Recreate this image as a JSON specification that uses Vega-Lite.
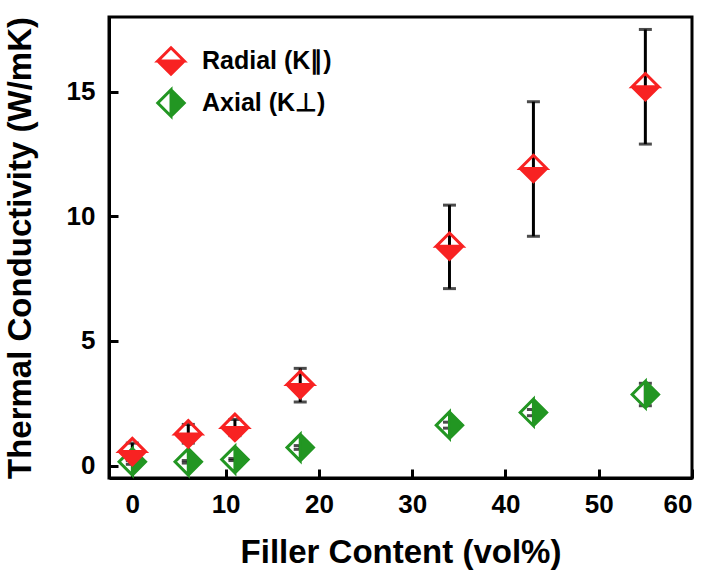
{
  "$schema": "https://vega.github.io/schema/vega-lite/v6.json",
  "width": 583,
  "height": 461,
  "autosize": "none",
  "padding": {"left": 109, "top": 17, "right": 20, "bottom": 100},
  "background": "white",
  "config": {
    "view": {"stroke": "black", "strokeWidth": 3},
    "axis": {
      "grid": false,
      "domainColor": "black",
      "domainWidth": 3,
      "tickColor": "black",
      "tickWidth": 3,
      "tickSize": -9,
      "labelFont": "Liberation Sans",
      "labelFontWeight": "bold",
      "labelFontSize": 26,
      "labelColor": "black",
      "titleFont": "Liberation Sans",
      "titleFontWeight": "bold",
      "titleFontSize": 33,
      "titleColor": "black"
    },
    "legend": {
      "labelFont": "Liberation Sans",
      "labelFontWeight": "bold",
      "labelFontSize": 25,
      "labelColor": "black",
      "symbolSize": 700,
      "symbolStrokeWidth": 3,
      "rowPadding": 2,
      "padding": 0
    }
  },
  "data": {
    "values": [
      {"series": "Axial (K⊥)", "x": 0, "y": 0.15, "lo": 0.05, "hi": 0.25},
      {"series": "Axial (K⊥)", "x": 6, "y": 0.15, "lo": 0.1, "hi": 0.2},
      {"series": "Axial (K⊥)", "x": 11, "y": 0.24, "lo": 0.2, "hi": 0.28},
      {"series": "Axial (K⊥)", "x": 18, "y": 0.72, "lo": 0.65, "hi": 0.8},
      {"series": "Axial (K⊥)", "x": 34, "y": 1.62, "lo": 1.5, "hi": 1.74},
      {"series": "Axial (K⊥)", "x": 43, "y": 2.13, "lo": 2.0, "hi": 2.25},
      {"series": "Axial (K⊥)", "x": 55, "y": 2.85, "lo": 2.4, "hi": 3.3},
      {"series": "Radial (K∥)", "x": 0, "y": 0.56, "lo": 0.2, "hi": 0.9},
      {"series": "Radial (K∥)", "x": 6, "y": 1.27, "lo": 0.9, "hi": 1.65},
      {"series": "Radial (K∥)", "x": 11, "y": 1.53, "lo": 1.2, "hi": 1.85},
      {"series": "Radial (K∥)", "x": 18, "y": 3.25, "lo": 2.55, "hi": 3.9},
      {"series": "Radial (K∥)", "x": 34, "y": 8.8, "lo": 7.1, "hi": 10.45},
      {"series": "Radial (K∥)", "x": 43, "y": 11.92, "lo": 9.2, "hi": 14.6},
      {"series": "Radial (K∥)", "x": 55, "y": 15.2, "lo": 12.9, "hi": 17.5}
    ]
  },
  "encoding": {
    "x": {
      "field": "x", "type": "quantitative",
      "scale": {"domain": [-2.5, 60], "nice": false, "zero": false},
      "axis": {"values": [0, 10, 20, 30, 40, 50, 60], "title": "Filler Content (vol%)", "labelPadding": 22, "titlePadding": 19}
    },
    "y": {
      "field": "y", "type": "quantitative",
      "scale": {"domain": [-0.5, 18], "nice": false, "zero": false},
      "axis": {"values": [0, 5, 10, 15], "title": "Thermal Conductivity (W/mK)", "labelPadding": 23, "titlePadding": 29}
    }
  },
  "layer": [
    {
      "mark": {"type": "point", "shape": "diamond", "filled": true, "fill": "white", "strokeOpacity": 0, "size": 700}
    },
    {
      "mark": {"type": "rule", "color": "black", "strokeWidth": 3},
      "encoding": {"y": {"field": "lo", "type": "quantitative"}, "y2": {"field": "hi"}}
    },
    {
      "mark": {"type": "tick", "color": "black", "thickness": 3, "size": 13, "orient": "horizontal"},
      "encoding": {"y": {"field": "lo", "type": "quantitative"}}
    },
    {
      "mark": {"type": "tick", "color": "black", "thickness": 3, "size": 13, "orient": "horizontal"},
      "encoding": {"y": {"field": "hi", "type": "quantitative"}}
    },
    {
      "mark": {"type": "point", "filled": true, "size": 700, "strokeWidth": 3, "opacity": 1},
      "encoding": {
        "shape": {
          "field": "series", "type": "nominal",
          "scale": {
            "domain": ["Radial (K∥)", "Axial (K⊥)"],
            "range": ["M0,-1L1,0L0,1L-1,0Z M0,-1L-1,0L1,0Z", "M0,-1L1,0L0,1L-1,0Z M0,-1L-1,0L0,1Z"]
          },
          "legend": {"title": null, "orient": "none", "legendX": 47, "legendY": 29, "labelOffset": 16}
        },
        "fill": {
          "field": "series", "type": "nominal",
          "scale": {"domain": ["Radial (K∥)", "Axial (K⊥)"], "range": ["#f82222", "#229622"]},
          "legend": {"title": null, "orient": "none", "legendX": 47, "legendY": 29, "labelOffset": 16}
        },
        "stroke": {
          "field": "series", "type": "nominal",
          "scale": {"domain": ["Radial (K∥)", "Axial (K⊥)"], "range": ["#f82222", "#229622"]},
          "legend": {"title": null, "orient": "none", "legendX": 47, "legendY": 29, "labelOffset": 16}
        }
      }
    }
  ]
}
